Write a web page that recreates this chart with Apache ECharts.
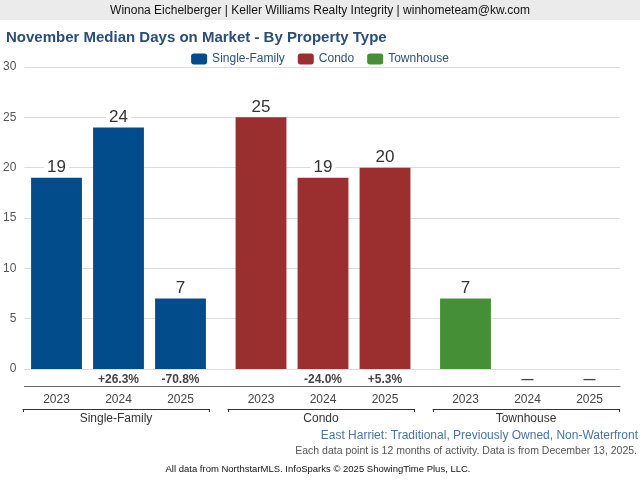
<!DOCTYPE html>
<html>
<head>
<meta charset="utf-8">
<script src="https://cdn.jsdelivr.net/npm/echarts@6/dist/echarts.min.js"></script>
<style>html,body{margin:0;padding:0;background:#fff}#c{width:640px;height:480px}</style>
</head>
<body>
<div id="c"></div>
<script>
var years = ['2023', '2024', '2025'];
var groups = ['Single-Family', 'Condo', 'Townhouse'];
var sfValues = [19, 24, 7];
var condoValues = [25, 19, 20];
var thValues = [7, null, null];
var sfChange = ['', '+26.3%', '-70.8%'];
var condoChange = ['', '-24.0%', '+5.3%'];
var thChange = ['', '\u2014', '\u2014'];
var yTicks = { min: 0, max: 30, interval: 5 };
var colors = ['#034c8c', '#9b2f30', '#458f37'];

var FONT = '"Liberation Sans", Arial, sans-serif';
var TOP = 67, H = 302;
var barLefts = [25.5, 230, 434.5];
var brLefts = [23, 228, 433];
var GW = 186;
var values = [sfValues, condoValues, thValues];
var changes = [sfChange, condoChange, thChange];

var grid = [{ left: 24, right: 20, top: TOP, height: H }];
var xAxis = [{
  gridIndex: 0, type: 'category', data: [''], offset: 17, position: 'bottom',
  axisLine: { show: true, onZero: false, lineStyle: { color: '#666', width: 1 } },
  axisTick: { show: false }, axisLabel: { show: false }, splitLine: { show: false }
}];
var yAxis = [{
  gridIndex: 0, type: 'value', min: yTicks.min, max: yTicks.max, interval: yTicks.interval,
  axisLine: { show: false }, axisTick: { show: false },
  axisLabel: { color: '#555', fontSize: 12, fontFamily: FONT, margin: 8 },
  splitLine: { lineStyle: { color: '#dcdcdc', width: 1 } }
}];
var series = [];

for (var g = 0; g < 3; g++) {
  var gi = grid.length;
  grid.push({ left: barLefts[g], width: GW, top: TOP, height: H });
  yAxis.push({ gridIndex: gi, type: 'value', min: yTicks.min, max: yTicks.max, interval: yTicks.interval, show: false });
  var yi = yAxis.length - 1;
  xAxis.push({
    gridIndex: gi, type: 'category', data: years, position: 'bottom', offset: 17,
    axisLine: { show: false, onZero: false }, axisTick: { show: false },
    axisLabel: { color: '#444', fontSize: 12, fontFamily: FONT, margin: 8 }
  });
  var xi = xAxis.length - 1;
  xAxis.push({
    gridIndex: gi, type: 'category', data: changes[g], position: 'bottom', offset: 0,
    axisLine: { show: false, onZero: false }, axisTick: { show: false },
    axisLabel: { color: '#444', fontSize: 12, fontWeight: 'bold', fontFamily: FONT, margin: 5, interval: 0 }
  });
  series.push({
    name: groups[g], type: 'bar', xAxisIndex: xi, yAxisIndex: yi,
    data: values[g], barWidth: '82%',
    itemStyle: { color: colors[g] },
    label: {
      show: true, position: 'top', distance: 2, color: '#333', fontSize: 17, fontFamily: FONT,
      backgroundColor: '#fff', padding: [0, 3, 0, 3]
    }
  });
  var bi = grid.length;
  grid.push({ left: brLefts[g], width: GW, top: TOP, height: H });
  yAxis.push({ gridIndex: bi, type: 'value', min: 0, max: 30, show: false });
  xAxis.push({
    gridIndex: bi, type: 'category', data: [groups[g]], position: 'bottom', offset: 40,
    axisLine: { show: true, onZero: false, lineStyle: { color: '#333', width: 1 } },
    axisTick: { show: true, inside: false, length: 3, lineStyle: { color: '#333' } },
    axisLabel: { color: '#333', fontSize: 12, fontFamily: FONT, margin: 4 }
  });
}

var chart = echarts.init(document.getElementById('c'), null, { renderer: 'canvas' });
chart.setOption({
  animation: false,
  color: colors,
  title: {
    text: 'November Median Days on Market - By Property Type',
    left: 1, top: 25,
    textStyle: { color: '#2a4e78', fontSize: 15, fontWeight: 'bold', fontFamily: FONT }
  },
  legend: {
    data: groups, top: 48, left: 'center',
    itemWidth: 16, itemHeight: 11, itemGap: 13, icon: 'roundRect',
    textStyle: { color: '#2d5079', fontSize: 12, fontFamily: FONT }
  },
  grid: grid, xAxis: xAxis, yAxis: yAxis, series: series,
  graphic: [
    { type: 'rect', left: 0, top: 0, shape: { width: 640, height: 20 }, style: { fill: '#ebebeb' }, z: -1 },
    { type: 'text', x: 320, y: 11, style: { text: 'Winona Eichelberger | Keller Williams Realty Integrity | winhometeam@kw.com', fill: '#111', font: '12px ' + FONT, textAlign: 'center', textVerticalAlign: 'middle' } },
    { type: 'text', x: 638, y: 436, style: { text: 'East Harriet: Traditional, Previously Owned, Non-Waterfront', fill: '#4a73a4', font: '12px ' + FONT, textAlign: 'right', textVerticalAlign: 'middle' } },
    { type: 'text', x: 637, y: 451, style: { text: 'Each data point is 12 months of activity. Data is from December 13, 2025.', fill: '#555', font: '10.5px ' + FONT, textAlign: 'right', textVerticalAlign: 'middle' } },
    { type: 'text', x: 318, y: 469, style: { text: 'All data from NorthstarMLS. InfoSparks \u00a9 2025 ShowingTime Plus, LLC.', fill: '#111', font: '9.5px ' + FONT, textAlign: 'center', textVerticalAlign: 'middle' } }
  ]
});
</script>
</body>
</html>
